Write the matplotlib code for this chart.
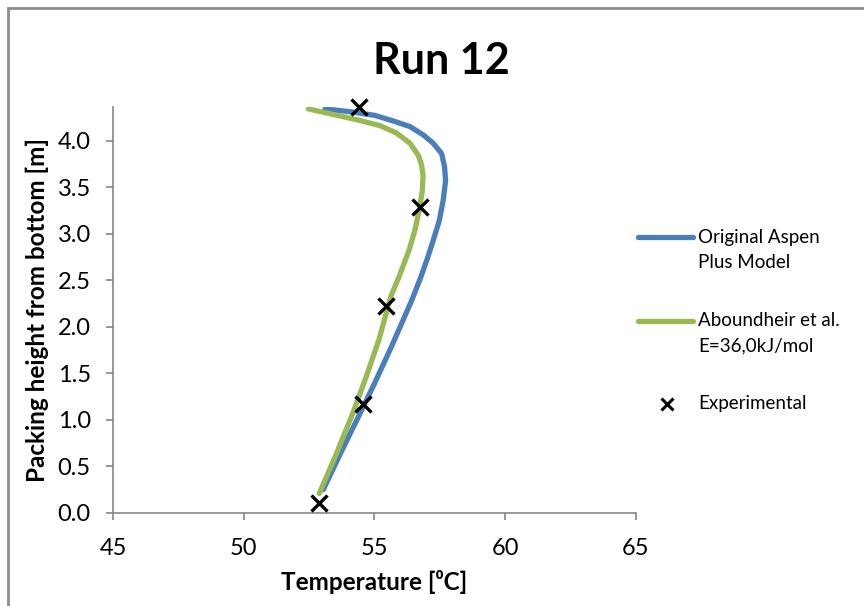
import matplotlib
matplotlib.use("Agg")
import matplotlib.pyplot as plt
from matplotlib.lines import Line2D
from matplotlib.patches import Rectangle

plt.rcParams['font.family'] = ['Lato', 'DejaVu Sans']

aspen_temp = [53.04, 53.70, 54.38, 55.00, 55.64, 56.03, 56.42, 56.77, 57.02, 57.25,
              57.48, 57.63, 57.72, 57.68, 57.57, 57.25, 56.87, 56.36, 55.72, 55.02,
              54.06, 53.11]
aspen_height = [0.25, 0.64, 1.03, 1.39, 1.78, 2.03, 2.28, 2.53, 2.73, 2.93,
                3.14, 3.36, 3.57, 3.72, 3.86, 3.97, 4.06, 4.15, 4.21, 4.27,
                4.31, 4.34]

abound_temp = [52.89, 53.55, 54.17, 54.68, 55.17, 55.62, 55.93, 56.32, 56.55, 56.71,
               56.83, 56.86, 56.80, 56.68, 56.36, 55.85, 55.21, 54.38, 53.42, 52.47]
abound_height = [0.21, 0.64, 1.07, 1.46, 1.86, 2.32, 2.53, 2.82, 3.04, 3.25,
                 3.46, 3.62, 3.74, 3.84, 3.97, 4.08, 4.16, 4.22, 4.28, 4.34]

exp_temp = [52.88, 54.56, 55.44, 56.74, 54.41]
exp_height = [0.11, 1.17, 2.22, 3.29, 4.36]

x_ticks = [45, 50, 55, 60, 65]
y_ticks = [0.0, 0.5, 1.0, 1.5, 2.0, 2.5, 3.0, 3.5, 4.0]

blue = '#4A7EBB'
green = '#98B954'
grey = '#868686'

fig = plt.figure(figsize=(8.64, 6.06), dpi=100)
ax = fig.add_axes([0.1308, 0.1535, 0.6052, 0.6699])

ax.plot(aspen_temp, aspen_height, color=blue, lw=3.8,
        solid_capstyle='round', solid_joinstyle='round')
ax.plot(abound_temp, abound_height, color=green, lw=3.8,
        solid_capstyle='round', solid_joinstyle='round')
ax.plot(exp_temp, exp_height, ls='none', marker='x', color='black',
        ms=11, mew=2.4, clip_on=False, zorder=5)

ax.set_xlim(45, 65)
ax.set_ylim(0, 4.36)
ax.set_xticks(x_ticks)
ax.set_yticks(y_ticks)
ax.set_yticklabels([f'{v:.1f}' for v in y_ticks])

for s in ['top', 'right']:
    ax.spines[s].set_visible(False)
for s in ['left', 'bottom']:
    ax.spines[s].set_color(grey)
    ax.spines[s].set_linewidth(1.2)
ax.tick_params(direction='out', length=5, width=1.2, color=grey,
               labelsize=17, pad=11, labelcolor='black')
ax.tick_params(axis='x', pad=13)

ax.set_xlabel('Temperature [⁰C]', fontsize=17.5, fontweight='bold', labelpad=8)
ax.set_ylabel('Packing height from bottom [m]', fontsize=17.5, fontweight='bold', labelpad=6)
fig.text(0.511, 0.90, 'Run 12', fontsize=31, fontweight='bold', ha='center', va='center')

# legend drawn by hand so the line sits beside the first text row
leg_x0, leg_x1, leg_tx = 638 / 864, 693 / 864, 698 / 864
fig.add_artist(Line2D([leg_x0, leg_x1], [1 - 237 / 606] * 2, color=blue, lw=3.8,
                      solid_capstyle='round'))
fig.add_artist(Line2D([leg_x0, leg_x1], [1 - 321 / 606] * 2, color=green, lw=3.8,
                      solid_capstyle='round'))
fig.add_artist(Line2D([667 / 864], [1 - 404 / 606], ls='none', marker='x', color='black',
                      ms=8, mew=2.2))
fig.text(leg_tx, 1 - 237 / 606, 'Original Aspen', fontsize=13.5, va='center')
fig.text(leg_tx, 1 - 262 / 606, 'Plus Model', fontsize=13.5, va='center')
fig.text(leg_tx, 1 - 321 / 606, 'Aboundheir et al.', fontsize=13.5, va='center')
fig.text(leg_tx, 1 - 346 / 606, 'E=36,0kJ/mol', fontsize=13.5, va='center')
fig.text(leg_tx, 1 - 404 / 606, 'Experimental', fontsize=13.5, va='center')

# chart border
fig.add_artist(Rectangle((8 / 864, -0.1), 1.2, 1.1 - 8 / 606, transform=fig.transFigure,
                         fill=False, edgecolor='#8c8c8c', lw=2))

fig.savefig('out.png', dpi=100)
